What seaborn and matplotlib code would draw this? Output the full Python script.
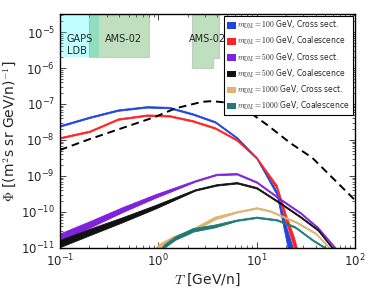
import numpy as np
import pandas as pd
import seaborn as sns
from matplotlib import pyplot as plt
from matplotlib.patches import Patch

sns.set_style("ticks")
plt.rcParams["mathtext.fontset"] = "cm"
plt.rcParams["font.family"] = ["DejaVu Sans"]
plt.rcParams["xtick.direction"] = "in"
plt.rcParams["ytick.direction"] = "in"
plt.rcParams["xtick.top"] = True
plt.rcParams["ytick.right"] = True

# background (dashed), log10 flux
bg_T = [0.1, 0.19, 0.43, 0.93, 1.5, 2.8, 3.5, 5.4, 7.9, 12.8, 21.9, 37, 95, 100]
bg_logF = [-8.28, -8.0, -7.67, -7.36, -7.12, -6.94, -6.92, -6.97, -7.17, -7.58, -8.08, -8.5, -9.61, -9.67]

# DM signals: energy grid, band centre (log10) and half width (log10)
T_100 = [0.1, 0.2, 0.39, 0.77, 1.3, 2.25, 3.8, 6.3, 10, 16, 20, 24, 28]
cs100_c = [-7.61, -7.37, -7.17, -7.08, -7.1, -7.28, -7.5, -7.94, -8.5, -9.47, -10.6, -11.5, -12.3]
cs100_w = [0.02, 0.02, 0.02, 0.02, 0.02, 0.02, 0.02, 0.02, 0.02, 0.05, 0.2, 0.4, 0.5]
co100_c = [-7.94, -7.76, -7.42, -7.31, -7.33, -7.47, -7.67, -8.0, -8.5, -9.3, -10.2, -10.85, -11.6]
co100_w = [0.02, 0.02, 0.02, 0.02, 0.02, 0.02, 0.02, 0.02, 0.02, 0.05, 0.1, 0.15, 0.2]

T_500 = [0.1, 0.2, 0.43, 0.93, 2.37, 3.9, 6.3, 10, 17.3, 28, 42, 63, 70]
cs500_c = [-10.7, -10.35, -9.94, -9.56, -9.14, -8.96, -8.94, -9.17, -9.64, -10.03, -10.44, -11.0, -11.2]
cs500_w = [0.1, 0.09, 0.07, 0.05, 0.02, 0.02, 0.02, 0.02, 0.02, 0.02, 0.02, 0.02, 0.02]
co500_c = [-10.88, -10.56, -10.22, -9.86, -9.39, -9.25, -9.19, -9.33, -9.75, -10.14, -10.5, -11.1, -11.3]
co500_w = [0.1, 0.09, 0.07, 0.05, 0.02, 0.02, 0.02, 0.02, 0.02, 0.02, 0.02, 0.02, 0.02]

T_cs1000 = [0.7, 1.0, 1.4, 2.0, 3.76, 6.3, 10, 13.6, 26, 40, 55, 65]
cs1000_c = [-11.45, -10.97, -10.74, -10.58, -10.17, -10.0, -9.89, -9.97, -10.3, -10.6, -11.0, -11.2]
cs1000_w = [0.07, 0.07, 0.06, 0.05, 0.04, 0.02, 0.02, 0.02, 0.02, 0.02, 0.02, 0.02]
T_co1000 = [0.9, 1.15, 1.5, 2.25, 3.76, 6.3, 10, 16, 24.6, 37, 50, 60]
co1000_c = [-11.35, -10.95, -10.72, -10.5, -10.39, -10.23, -10.15, -10.22, -10.42, -10.78, -11.0, -11.2]
co1000_w = [0.05, 0.05, 0.05, 0.05, 0.04, 0.02, 0.02, 0.02, 0.02, 0.02, 0.02, 0.02]

labels = [r"$m_{\rm DM}=100$ GeV, Cross sect.", r"$m_{\rm DM}=100$ GeV, Coalescence",
          r"$m_{\rm DM}=500$ GeV, Cross sect.", r"$m_{\rm DM}=500$ GeV, Coalescence",
          r"$m_{\rm DM}=1000$ GeV, Cross sect.", r"$m_{\rm DM}=1000$ GeV, Coalescence"]
colors = ["#2244dd", "#ff2222", "#7f22dd", "#111111", "#dcb46e", "#1e7a78"]

# experiment sensitivity regions
gaps_T = [0.1, 0.25]
ams_T = [0.2, 0.8]
low_Fmin = 2e-6
ams_hi_T = [2.2, 2.2, 4.15, 4.15, 3.6, 3.6]
ams_hi_F = [1e-6, 1e-3, 1e-3, 1.9e-6, 1.9e-6, 1e-6]

series = [(T_100, cs100_c, cs100_w), (T_100, co100_c, co100_w),
          (T_500, cs500_c, cs500_w), (T_500, co500_c, co500_w),
          (T_cs1000, cs1000_c, cs1000_w), (T_co1000, co1000_c, co1000_w)]

fig = plt.figure(figsize=(3.74, 2.93), dpi=100)
ax = fig.add_axes([0.160, 0.154, 0.789, 0.798])
ax.set_xscale("log")
ax.set_yscale("log")

ax.axvspan(gaps_T[0], gaps_T[1], ymin=(np.log10(low_Fmin) + 11) / 6.5, ymax=1,
           facecolor="#00ffff", alpha=0.25, lw=0)
ax.axvspan(ams_T[0], ams_T[1], ymin=(np.log10(low_Fmin) + 11) / 6.5, ymax=1,
           facecolor="green", edgecolor="#557755", alpha=0.25, lw=0.8)
ax.fill(ams_hi_T, ams_hi_F, facecolor="green", edgecolor="#557755", alpha=0.25, lw=0.8)

ax.text(0.118, 4.4e-6, "GAPS\nLDB", fontsize=7, va="center", ha="left", linespacing=1.3)
ax.text(0.44, 6.4e-6, "AMS-02", fontsize=7, va="center", ha="center")
ax.text(3.2, 6.4e-6, "AMS-02", fontsize=7, va="center", ha="center")

for (T, c, w), col in zip(series, colors):
    c = np.array(c)
    w = np.array(w)
    ax.fill_between(T, 10 ** (c - w), 10 ** (c + w), facecolor=col, edgecolor=col, lw=0.6)

bg = pd.DataFrame({"T": bg_T, "F": 10 ** np.array(bg_logF)})
sns.lineplot(data=bg, x="T", y="F", ax=ax, color="black", lw=1.4, linestyle="--")
ax.lines[-1].set_dashes([4, 2.5])

ax.set_xlim(0.1, 100)
ax.set_ylim(1e-11, 10 ** -4.5)
ax.set_xlabel(r"$T$ [GeV/n]", fontsize=10, labelpad=2)
ax.set_ylabel(r"$\Phi$ [(m$^2$s sr GeV/n)$^{-1}$]", fontsize=10, labelpad=2)
ax.tick_params(which="major", length=4, width=0.6, labelsize=8.5)
ax.tick_params(which="minor", length=2, width=0.5)
for s in ax.spines.values():
    s.set_linewidth(1.0)
    s.set_color("black")

handles = [Patch(facecolor=col, edgecolor="none") for col in colors]
leg = ax.legend(handles, labels, loc="upper right", fontsize=5.5, frameon=True, fancybox=False,
                handlelength=1.2, handleheight=0.9, handletextpad=0.2, labelspacing=0.5,
                borderpad=0.35, borderaxespad=0.3)
leg.get_frame().set_edgecolor("black")
leg.get_frame().set_linewidth(0.8)
leg.get_frame().set_alpha(1)

fig.savefig("out.png", dpi=100)
